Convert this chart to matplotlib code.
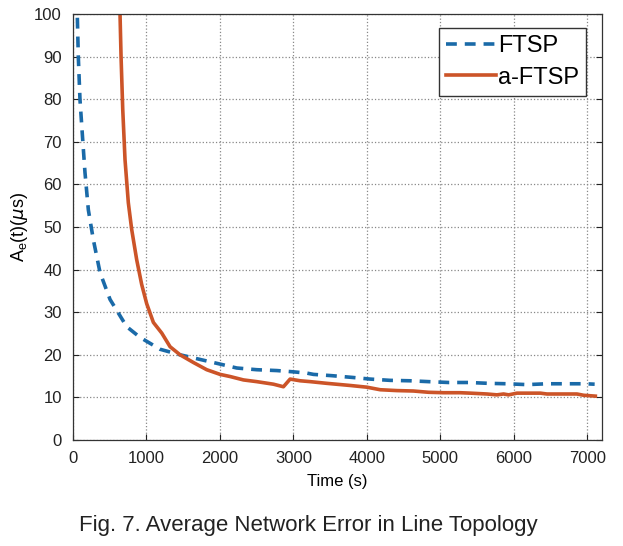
import matplotlib
matplotlib.use("Agg")
import matplotlib.pyplot as plt

# ---- data ----
ftsp_t = [40, 59, 72, 95, 132, 163, 209, 277, 368, 504, 731, 912, 1185, 1457, 1707,
          1957, 2229, 2501, 2774, 3000, 3183, 3273, 3523, 3795, 4045, 4317, 4589,
          4839, 5111, 5384, 5656, 5906, 6179, 6451, 6700, 6973, 7100]
ftsp_v = [115, 99.4, 90.1, 79.9, 70.5, 62.8, 54.0, 47.0, 39.3, 33.0, 26.6, 24.1, 21.3,
          20.0, 19.0, 18.0, 16.9, 16.5, 16.3, 16.0, 15.7, 15.4, 15.1, 14.7, 14.3, 14.0,
          13.9, 13.7, 13.5, 13.5, 13.3, 13.2, 13.0, 13.2, 13.2, 13.2, 13.1]

afftsp_t = [630, 640, 654, 677, 708, 753, 799, 867, 935, 1003, 1094, 1208, 1321, 1457,
            1638, 1820, 2002, 2138, 2320, 2501, 2728, 2864, 2955, 3092, 3228, 3455,
            3772, 3999, 4181, 4408, 4634, 4839, 5043, 5270, 5406, 5634, 5770, 5860,
            5929, 6043, 6360, 6451, 6859, 6950, 7109]
afftsp_v = [110, 100, 90, 77.6, 65.8, 55.7, 49.4, 42.3, 36.5, 32.0, 27.6, 25.1, 21.9,
            20.0, 18.2, 16.5, 15.4, 14.9, 14.1, 13.7, 13.1, 12.5, 14.3, 13.9, 13.7,
            13.3, 12.8, 12.4, 11.8, 11.6, 11.5, 11.2, 11.1, 11.1, 11.0, 10.8, 10.6,
            10.8, 10.6, 11.0, 11.0, 10.8, 10.8, 10.5, 10.3]

labels = ["FTSP", "a-FTSP"]
xticks = [0, 1000, 2000, 3000, 4000, 5000, 6000, 7000]
yticks = [0, 10, 20, 30, 40, 50, 60, 70, 80, 90, 100]

plt.rcParams['font.family'] = ['Liberation Sans', 'DejaVu Sans']

fig = plt.figure(figsize=(6.23, 5.46), dpi=100)
ax = fig.add_axes([73/623, 1-440/546, (602-73)/623, (440-14)/546])

ax.plot(ftsp_t, ftsp_v, color='#1a6aa8', lw=2.6, dashes=(3.0, 2.2), label=labels[0])
ax.plot(afftsp_t, afftsp_v, color='#cc5428', lw=2.6, label=labels[1])

ax.set_xlim(0, 7200)
ax.set_ylim(0, 100)
ax.set_xticks(xticks)
ax.set_yticks(yticks)
ax.tick_params(direction='in', length=4, width=0.8, top=False, right=True,
               labelsize=12, colors='#222222', pad=8)
ax.grid(True, linestyle=':', color='#888888', linewidth=0.9)
for s in ax.spines.values():
    s.set_color('#333333')
    s.set_linewidth(0.9)

ax.set_xlabel('Time (s)', fontsize=12, labelpad=6)
ax.set_ylabel(r'A$_\mathregular{e}$(t)($\mu$s)', fontsize=13, labelpad=3)

leg = ax.legend(loc='upper right', bbox_to_anchor=(0.97, 0.967),
                prop={'size': 17},
                handlelength=2.1, handletextpad=0.1, borderpad=0.3,
                labelspacing=0.4, fancybox=False, framealpha=1,
                borderaxespad=0)
leg.get_frame().set_edgecolor('#333333')
leg.get_frame().set_linewidth(1.0)

fig.text(0.495, 1-525/546, 'Fig. 7. Average Network Error in Line Topology',
         ha='center', va='center', fontsize=16, color='#222222')

fig.savefig('out.png', dpi=100)
